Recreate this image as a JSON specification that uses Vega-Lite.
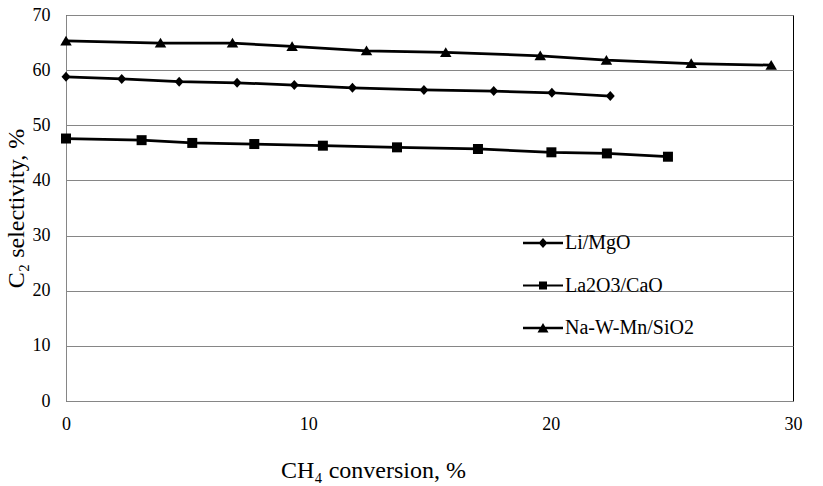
{
  "$schema": "https://vega.github.io/schema/vega-lite/v6.json",
  "width": 727,
  "height": 386,
  "autosize": {"type": "none"},
  "padding": {"left": 66, "top": 15, "right": 30, "bottom": 85},
  "background": "white",
  "config": {
    "font": "Liberation Serif",
    "view": {"stroke": "#000000", "strokeWidth": 1},
    "axis": {"labelFont": "Liberation Serif", "titleFont": "Liberation Serif"},
    "legend": {"labelFont": "Liberation Serif"}
  },
  "data": {
    "values": [
      {"catalyst": "Li/MgO", "conversion": 0, "selectivity": 58.8},
      {"catalyst": "Li/MgO", "conversion": 2.3, "selectivity": 58.4},
      {"catalyst": "Li/MgO", "conversion": 4.67, "selectivity": 57.9},
      {"catalyst": "Li/MgO", "conversion": 7.06, "selectivity": 57.7},
      {"catalyst": "Li/MgO", "conversion": 9.42, "selectivity": 57.3},
      {"catalyst": "Li/MgO", "conversion": 11.82, "selectivity": 56.8},
      {"catalyst": "Li/MgO", "conversion": 14.77, "selectivity": 56.4},
      {"catalyst": "Li/MgO", "conversion": 17.65, "selectivity": 56.2},
      {"catalyst": "Li/MgO", "conversion": 20.05, "selectivity": 55.9},
      {"catalyst": "Li/MgO", "conversion": 22.46, "selectivity": 55.3},
      {"catalyst": "La2O3/CaO", "conversion": 0, "selectivity": 47.6},
      {"catalyst": "La2O3/CaO", "conversion": 3.12, "selectivity": 47.3},
      {"catalyst": "La2O3/CaO", "conversion": 5.21, "selectivity": 46.8},
      {"catalyst": "La2O3/CaO", "conversion": 7.77, "selectivity": 46.6},
      {"catalyst": "La2O3/CaO", "conversion": 10.6, "selectivity": 46.3},
      {"catalyst": "La2O3/CaO", "conversion": 13.66, "selectivity": 46.0},
      {"catalyst": "La2O3/CaO", "conversion": 17.0, "selectivity": 45.7},
      {"catalyst": "La2O3/CaO", "conversion": 20.03, "selectivity": 45.1},
      {"catalyst": "La2O3/CaO", "conversion": 22.32, "selectivity": 44.9},
      {"catalyst": "La2O3/CaO", "conversion": 24.84, "selectivity": 44.3},
      {"catalyst": "Na-W-Mn/SiO2", "conversion": 0, "selectivity": 65.3},
      {"catalyst": "Na-W-Mn/SiO2", "conversion": 3.9, "selectivity": 64.9},
      {"catalyst": "Na-W-Mn/SiO2", "conversion": 6.87, "selectivity": 64.9},
      {"catalyst": "Na-W-Mn/SiO2", "conversion": 9.33, "selectivity": 64.3},
      {"catalyst": "Na-W-Mn/SiO2", "conversion": 12.4, "selectivity": 63.5},
      {"catalyst": "Na-W-Mn/SiO2", "conversion": 15.67, "selectivity": 63.2},
      {"catalyst": "Na-W-Mn/SiO2", "conversion": 19.57, "selectivity": 62.6},
      {"catalyst": "Na-W-Mn/SiO2", "conversion": 22.3, "selectivity": 61.8},
      {"catalyst": "Na-W-Mn/SiO2", "conversion": 25.8, "selectivity": 61.2},
      {"catalyst": "Na-W-Mn/SiO2", "conversion": 29.1, "selectivity": 60.9}
    ]
  },
  "encoding": {
    "x": {
      "field": "conversion",
      "type": "quantitative",
      "scale": {"domain": [0, 30], "nice": false, "zero": true},
      "axis": {
        "title": "CH₄ conversion, %",
        "values": [0, 10, 20, 30],
        "grid": false,
        "ticks": false,
        "domainColor": "#868686",
        "labelFontSize": 18,
        "labelColor": "#000000",
        "labelPadding": 14,
        "labelFlush": false,
        "titleFontSize": 24,
        "titleFontWeight": "normal",
        "titleColor": "#000000",
        "titleX": 307,
        "titleY": 76,
        "titleBaseline": "alphabetic",
        "titleAlign": "center"
      }
    },
    "y": {
      "field": "selectivity",
      "type": "quantitative",
      "scale": {"domain": [0, 70], "nice": false},
      "axis": {
        "title": "C₂ selectivity, %",
        "values": [0, 10, 20, 30, 40, 50, 60, 70],
        "grid": true,
        "gridColor": "#868686",
        "gridWidth": 1,
        "ticks": false,
        "domainColor": "#868686",
        "labelFontSize": 18,
        "labelColor": "#000000",
        "labelPadding": 16,
        "labelFlush": false,
        "titleFontSize": 24,
        "titleFontWeight": "normal",
        "titleColor": "#000000",
        "titleX": -38,
        "titleY": 193,
        "titleBaseline": "bottom",
        "titleAlign": "center"
      }
    }
  },
  "layer": [
    {
      "mark": {"type": "line", "color": "#000000", "strokeWidth": 2.75},
      "encoding": {"detail": {"field": "catalyst"}}
    },
    {
      "mark": {"type": "point", "filled": true, "color": "#000000", "opacity": 1, "size": 100},
      "encoding": {
        "shape": {
          "field": "catalyst",
          "type": "nominal",
          "scale": {
            "domain": ["Li/MgO", "La2O3/CaO", "Na-W-Mn/SiO2"],
            "range": [
              "M0,-1L0.9,0L0,1L-0.9,0Z",
              "M-1,-1H1V1H-1Z",
              "M0,-1.05L1.15,0.9H-1.15Z"
            ]
          },
          "legend": null
        }
      }
    },
    {
      "transform": [{"filter": {"field": "conversion", "lt": 0}}],
      "mark": {"type": "point", "filled": true, "color": "#000000", "opacity": 1, "size": 100},
      "encoding": {
        "shape": {
          "field": "catalyst",
          "type": "nominal",
          "scale": {
            "domain": ["Li/MgO", "La2O3/CaO", "Na-W-Mn/SiO2"],
            "range": [
              "M-4,-0.25H4V0.25H-4ZM0,-1L0.9,0L0,1L-0.9,0Z",
              "M-4,-0.2H4V0.2H-4ZM-0.8,-0.8H0.8V0.8H-0.8Z",
              "M-4,-0.25H4V0.25H-4ZM0,-1L1.1,0.9H-1.1Z"
            ]
          },
          "legend": {
            "title": null,
            "orient": "none",
            "legendX": 467,
            "legendY": 218,
            "padding": 0,
            "symbolSize": 100,
            "symbolFillColor": "#000000",
            "symbolOpacity": 1,
            "labelFont": "Liberation Serif",
            "labelFontSize": 20,
            "labelColor": "#000000",
            "labelOffset": 12,
            "rowPadding": 22.5
          }
        }
      }
    }
  ],
  "resolve": {"scale": {"shape": "independent"}, "legend": {"shape": "independent"}}
}
